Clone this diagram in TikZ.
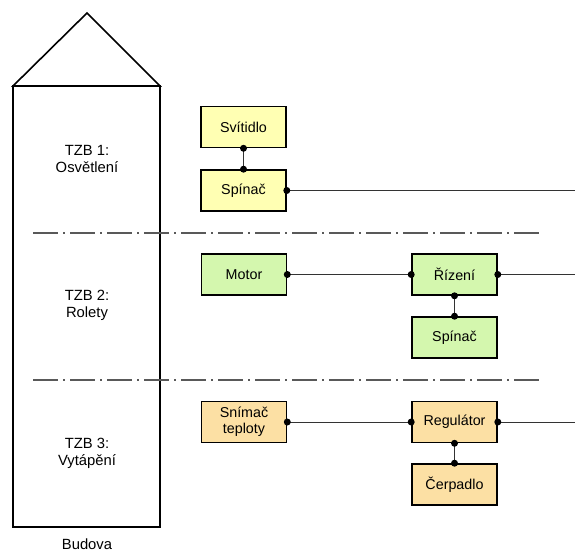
\documentclass[tikz,border=0pt]{standalone}
\usepackage{fontspec}
\setmainfont{Liberation Sans}
\begin{document}
\begin{tikzpicture}[x=1pt,y=-1pt,
  box/.style={draw=black,line width=1.6pt,minimum width=85pt,minimum height=41pt,inner sep=1pt,align=center,font=\fontsize{14.3}{16}\selectfont},
  ybox/.style={box,fill=yellowfill},
  gbox/.style={box,fill=greenfill},
  obox/.style={box,fill=orangefill},
  wire/.style={line width=0.9pt,draw=black!80},
  dot/.style={circle,fill=black,inner sep=0pt,minimum size=7pt},
  sep/.style={line width=1.2pt,draw=black!65,dash pattern=on 25pt off 5pt on 2pt off 5pt},
  lbl/.style={align=center,font=\fontsize{14.8}{17}\selectfont}]
\definecolor{yellowfill}{HTML}{FFFFB3}
\definecolor{greenfill}{HTML}{D4F7AE}
\definecolor{orangefill}{HTML}{FCE0A4}
\useasboundingbox (0,0) rectangle (575,551);
% building
\draw[line width=1.6pt] (13,86) -- (87,13) -- (160,86) -- cycle;
\draw[line width=1.6pt] (13,86) rectangle (160,527);
\node[lbl] (l1) at (87,159) {TZB 1:\\Osvětlení};
\node[lbl] (l2) at (87,305) {TZB 2:\\Rolety};
\node[lbl] (l3) at (87,453) {TZB 3:\\Vytápění};
\node[lbl] (bud) at (87,544) {Budova};
% separators
\coordinate (s1a) at (33,233); \coordinate (s1b) at (540,233);
\coordinate (s2a) at (33,380); \coordinate (s2b) at (540,380);
\draw[sep] (s1a) -- (s1b);
\draw[sep] (s2a) -- (s2b);
% boxes
\node[ybox] (svit) at (243.5,127) {Svítidlo};
\node[ybox] (spin1) at (243.5,190.5) {Spínač};
\node[gbox] (motor) at (244,274.5) {Motor};
\node[gbox] (rizeni) at (454.5,274.5) {Řízení};
\node[gbox] (spin2) at (454.5,337.5) {Spínač};
\node[obox] (snimac) at (244,422) {Snímač\\teploty};
\node[obox] (reg) at (454.5,422) {Regulátor};
\node[obox] (cerp) at (454.5,484.5) {Čerpadlo};
\coordinate (e1) at (575,190.5);
\coordinate (e2) at (575,274.5);
\coordinate (e3) at (575,422);
% wires
\draw[wire] (svit.south) -- (spin1.north);
\draw[wire] (spin1.east) -- (e1);
\draw[wire] (motor.east) -- (rizeni.west);
\draw[wire] (rizeni.east) -- (e2);
\draw[wire] (rizeni.south) -- (spin2.north);
\draw[wire] (snimac.east) -- (reg.west);
\draw[wire] (reg.east) -- (e3);
\draw[wire] (reg.south) -- (cerp.north);
% dots
\foreach \p in {svit.south,spin1.north,spin1.east,motor.east,rizeni.west,rizeni.east,rizeni.south,spin2.north,snimac.east,reg.west,reg.east,reg.south,cerp.north}
  \node[dot] at (\p) {};
\end{tikzpicture}
\end{document}
